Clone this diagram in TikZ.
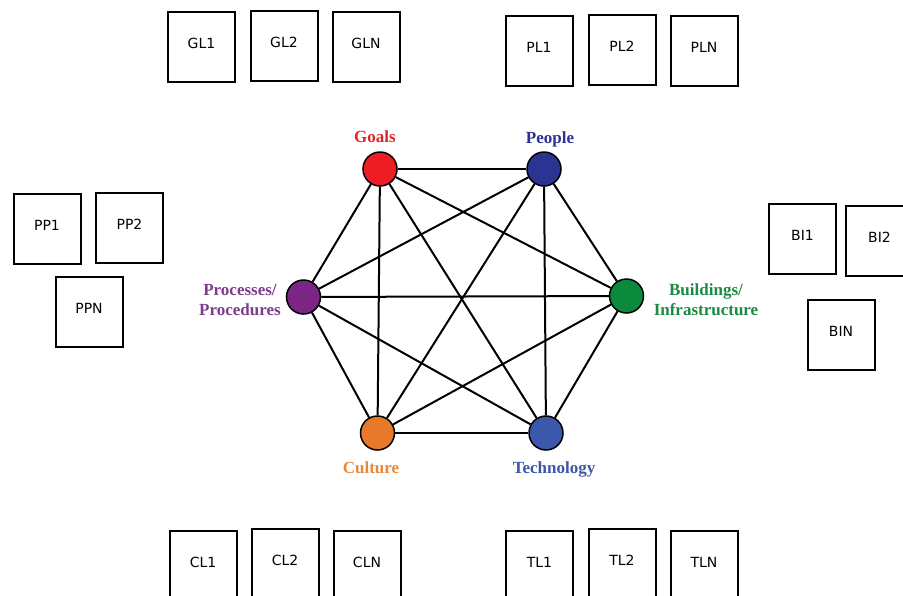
\documentclass[tikz,border=0pt]{standalone}
\usepackage{fontspec}
\setmainfont{Liberation Serif}
\newfontfamily\boxfont{DejaVu Sans}
\definecolor{goalsf}{HTML}{EE1D23}
\definecolor{peoplef}{HTML}{2B3591}
\definecolor{procf}{HTML}{7B2585}
\definecolor{buildf}{HTML}{0B8A3E}
\definecolor{cultf}{HTML}{E8792B}
\definecolor{techf}{HTML}{3C58AD}
\definecolor{goalsl}{HTML}{E0252A}
\definecolor{peoplel}{HTML}{2E3192}
\definecolor{procl}{HTML}{7D3C8C}
\definecolor{buildl}{HTML}{1B8A43}
\definecolor{cultl}{HTML}{E8883A}
\definecolor{techl}{HTML}{3E56A6}
\tikzset{
  lbox/.style={draw, line width=2pt, minimum width=67pt, minimum height=70pt,
    inner sep=0pt, font=\boxfont\fontsize{14}{16}\selectfont, text depth=7pt},
  hub/.style={circle, draw, line width=1.5pt, minimum size=34pt, inner sep=0pt},
  edge/.style={line width=2pt},
  hlabel/.style={font=\bfseries\fontsize{17}{20}\selectfont, align=center}
}
\begin{document}
\begin{tikzpicture}[x=1pt,y=-1pt]
\useasboundingbox (0,0) rectangle (903,595);
\clip (0,0) rectangle (903,595);
% boxes
\node[lbox] (gl1) at (201.5,47) {GL1};
\node[lbox] (gl2) at (284,46) {GL2};
\node[lbox] (gln) at (366,47) {GLN};
\node[lbox] (pl1) at (539,51) {PL1};
\node[lbox] (pl2) at (622,50) {PL2};
\node[lbox] (pln) at (704,51) {PLN};
\node[lbox] (pp1) at (47,229) {PP1};
\node[lbox] (pp2) at (129.5,227.5) {PP2};
\node[lbox] (ppn) at (89,311.5) {PPN};
\node[lbox] (bi1) at (802.5,239) {BI1};
\node[lbox] (bi2) at (879.5,241) {BI2};
\node[lbox] (bin) at (841,334.5) {BIN};
\node[lbox] (cl1) at (203,566) {CL1};
\node[lbox] (cl2) at (285,564) {CL2};
\node[lbox] (cln) at (367,566) {CLN};
\node[lbox] (tl1) at (539.5,566) {TL1};
\node[lbox] (tl2) at (622,564) {TL2};
\node[lbox] (tln) at (704,566) {TLN};
% hubs
\node[hub, fill=goalsf] (g) at (380,169) {};
\node[hub, fill=peoplef] (p) at (544,169) {};
\node[hub, fill=procf] (pr) at (303.5,297) {};
\node[hub, fill=buildf] (b) at (626.5,296) {};
\node[hub, fill=cultf] (c) at (377.5,433) {};
\node[hub, fill=techf] (t) at (546,433) {};
% edges
\draw[edge] (g) -- (p);
\draw[edge] (g) -- (pr);
\draw[edge] (g) -- (c);
\draw[edge] (g) -- (t);
\draw[edge] (g) -- (b);
\draw[edge] (p) -- (pr);
\draw[edge] (p) -- (c);
\draw[edge] (p) -- (t);
\draw[edge] (p) -- (b);
\draw[edge] (pr) -- (b);
\draw[edge] (pr) -- (c);
\draw[edge] (pr) -- (t);
\draw[edge] (b) -- (c);
\draw[edge] (b) -- (t);
\draw[edge] (c) -- (t);
% labels
\node[hlabel, text=goalsl, anchor=base] (gt) at (375,142) {Goals};
\node[hlabel, text=peoplel, anchor=base] (ptx) at (550,143) {People};
\node[hlabel, text=procl] (prt) at (240,300) {Processes/\\Procedures};
\node[hlabel, text=buildl] (bt) at (706,300) {Buildings/\\Infrastructure};
\node[hlabel, text=cultl, anchor=base] (ct) at (371,473) {Culture};
\node[hlabel, text=techl, anchor=base] (tt) at (554,473) {Technology};
\end{tikzpicture}
\end{document}
